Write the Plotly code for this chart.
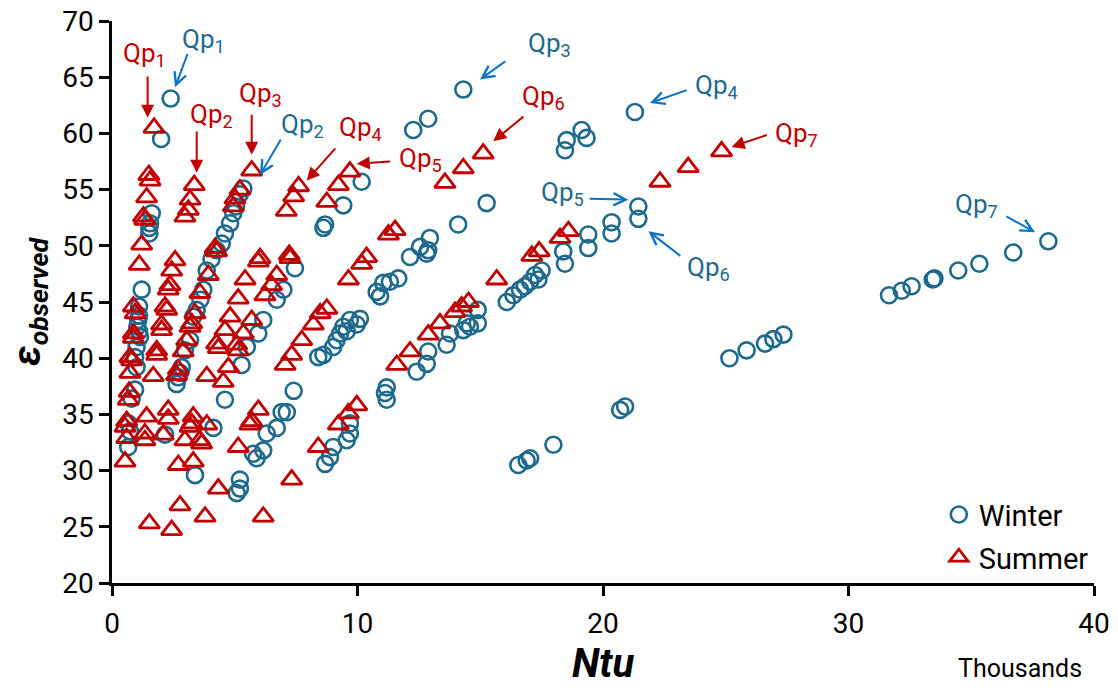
import plotly.graph_objects as go

# ---------------- data ----------------
winter_ntu = [2.39, 2.0, 1.62, 1.55, 1.52, 1.52, 1.21, 1.1, 1.1, 1.07, 1.03, 1.1, 1.14, 1.0, 0.94, 1.0, 0.94, 0.8, 0.66, 0.73, 0.66,
              5.35, 5.21, 5.05, 4.94, 4.81, 4.6, 4.47, 4.26, 4.05, 3.86, 3.72, 3.6, 3.45, 3.31, 3.18, 2.97, 2.84, 2.77, 2.7, 2.63,
              7.45, 6.98, 6.71, 6.16, 5.96, 5.49, 5.28, 4.6, 7.4, 6.91, 7.12, 6.71, 6.3, 6.16, 5.75, 5.89, 5.21, 5.21, 5.08, 3.38, 4.13, 2.16,
              9.42, 8.68, 8.61, 10.17, 12.27, 12.88, 14.31,
              11.66, 11.32, 10.78, 10.92, 11.05, 10.1, 9.69, 9.42, 9.29, 9.15, 9.97, 9.56, 9.01, 8.61, 8.4, 12.95, 12.55, 12.14, 12.88, 12.82, 14.1, 15.26, 11.19, 11.12, 11.19,
              9.69, 9.69, 9.56, 9.01, 8.88, 8.68,
              12.41, 12.82, 12.88, 13.63, 13.77, 14.31, 14.45, 14.58, 14.9, 14.9,
              16.08, 16.35, 16.62, 16.82, 17.03, 17.23, 17.37, 17.5, 18.38, 18.45, 19.4, 19.4, 20.35, 20.35, 21.44, 21.44,
              18.52, 19.13, 19.33, 18.45, 21.3,
              20.7, 20.9, 17.98, 16.55, 16.89, 17.03,
              25.15, 25.85, 26.6, 26.94, 27.35, 31.65, 32.17, 32.57, 33.43, 33.5, 34.47, 35.33, 36.71, 38.14]
winter_eps = [63.1, 59.5, 52.9, 52.0, 51.6, 51.1, 46.1, 44.6, 43.8, 43.4, 42.8, 42.4, 41.9, 41.0, 40.1, 39.2, 37.2, 36.4, 34.2, 33.5, 32.1,
              55.1, 54.6, 53.5, 52.9, 52.0, 51.1, 50.2, 49.6, 48.8, 47.8, 46.1, 45.2, 44.3, 43.7, 41.6, 40.7, 39.2, 38.7, 38.3, 37.7,
              48.0, 46.1, 45.2, 43.4, 42.2, 41.0, 39.4, 36.3, 37.1, 35.2, 35.2, 33.8, 33.3, 31.8, 31.5, 31.1, 29.2, 28.4, 28.0, 29.6, 33.8, 33.2,
              53.6, 51.9, 51.6, 55.7, 60.3, 61.3, 63.9,
              47.1, 46.8, 45.9, 45.5, 46.7, 43.5, 43.4, 42.8, 42.2, 41.6, 43.0, 42.4, 41.0, 40.3, 40.1, 50.7, 49.9, 49.0, 49.6, 49.3, 51.9, 53.8, 37.4, 36.9, 36.3,
              34.2, 33.3, 32.7, 32.1, 31.2, 30.6,
              38.8, 39.5, 40.6, 41.2, 42.2, 42.5, 43.1, 42.8, 44.3, 43.1,
              45.0, 45.6, 46.1, 46.4, 46.8, 47.4, 47.0, 47.8, 49.5, 48.4, 49.8, 51.0, 51.1, 52.1, 53.5, 52.4,
              59.4, 60.3, 59.6, 58.5, 61.9,
              35.4, 35.7, 32.3, 30.5, 30.9, 31.1,
              40.0, 40.7, 41.3, 41.7, 42.1, 45.6, 46.0, 46.4, 47.0, 47.1, 47.8, 48.4, 49.4, 50.4]

summer_ntu = [1.71, 1.5, 1.55, 1.41, 1.34, 1.28, 1.21, 1.11, 0.87, 0.94, 0.87, 0.87, 0.73, 0.8, 0.73, 0.7, 0.66, 0.6, 0.53, 0.6, 0.53, 1.41, 1.34, 1.34, 1.52,
              3.35, 3.18, 3.11, 2.97, 2.57, 2.43, 2.36, 2.29, 2.16, 2.23, 2.02, 2.02, 1.82, 1.82, 1.68, 2.29, 2.29, 2.09, 2.97, 2.7, 2.77, 2.43, 3.31, 3.25, 3.18, 3.58, 3.65, 3.31, 3.86, 4.33, 3.79,
              5.69, 5.21, 5.01, 4.94, 4.2, 4.26, 3.92, 3.58, 3.38, 3.25, 3.18, 3.04, 2.9, 2.7, 2.63, 3.86, 4.53, 6.03, 5.96, 5.42, 5.14, 4.81, 4.6, 4.26, 4.33, 5.08, 5.14, 4.74, 5.69, 5.35, 5.14, 5.96, 5.62, 5.69, 7.32, 6.16,
              7.6, 7.4, 7.1, 7.22, 7.25, 6.71, 6.5, 6.23, 7.32, 7.05, 7.73, 8.2, 8.48, 8.75, 9.69, 9.22, 8.75, 10.37, 10.17, 9.63, 9.97, 9.63, 9.22, 8.4, 11.53, 11.26,
              13.56, 14.31, 15.12, 14.52, 14.24, 13.97, 13.36, 12.88, 12.14, 11.6, 15.67, 17.1, 17.4, 18.25, 18.59,
              22.32, 23.47, 24.83]
summer_eps = [60.5, 56.3, 55.8, 54.3, 52.3, 52.6, 50.1, 48.3, 44.6, 44.0, 42.2, 41.8, 40.1, 39.8, 38.7, 37.0, 36.3, 34.4, 33.9, 32.9, 30.8, 34.8, 33.3, 32.7, 25.3,
              55.4, 54.1, 53.2, 52.6, 48.7, 47.8, 46.5, 46.1, 44.6, 44.3, 43.0, 42.5, 40.7, 40.3, 38.4, 35.4, 34.6, 33.2, 32.7, 30.5, 26.9, 24.7, 34.8, 34.2, 33.9, 32.7, 32.4, 30.8, 34.1, 28.4, 25.9,
              56.7, 55.0, 54.2, 53.5, 49.8, 49.5, 47.4, 45.8, 44.0, 43.1, 42.8, 41.6, 40.6, 39.0, 38.5, 38.4, 37.9, 48.9, 48.6, 47.0, 45.3, 43.7, 42.5, 41.3, 40.9, 41.2, 40.7, 39.2, 43.4, 42.2, 32.1, 35.4, 34.1, 34.4, 29.2, 25.9,
              55.3, 54.4, 53.1, 49.2, 48.9, 47.4, 46.5, 45.6, 40.3, 39.4, 41.6, 43.0, 44.0, 44.4, 56.6, 55.4, 53.9, 49.0, 48.4, 47.0, 35.8, 35.1, 34.1, 32.1, 51.4, 51.0,
              55.6, 56.9, 58.2, 45.0, 44.6, 44.1, 43.1, 42.1, 40.6, 39.4, 47.0, 49.1, 49.5, 50.7, 51.3,
              55.7, 57.0, 58.4]

x_ticks = [0, 10, 20, 30, 40]
y_ticks = [20, 25, 30, 35, 40, 45, 50, 55, 60, 65, 70]

# Qp callouts: label, season, text position, arrow tail, arrow tip (data units)
callout_labels = ["1", "1", "2", "3", "2", "4", "5", "6", "3", "4", "7", "5", "6", "7"]
callout_season = ["S", "W", "S", "S", "W", "S", "S", "S", "W", "W", "S", "W", "W", "W"]
callout_text_xy = [(1.34, 66.8), (3.71, 68.1), (4.07, 61.4), (6.03, 63.3), (7.74, 60.5), (10.14, 60.3), (12.55, 57.5),
                   (17.56, 63.0), (17.84, 67.7), (24.64, 64.0), (27.9, 59.7), (18.37, 54.5), (24.28, 47.8), (35.23, 53.4)]
callout_tail = [(1.45, 65.2), (3.1, 67.2), (3.45, 60.3), (5.69, 61.8), (6.91, 59.6), (9.15, 58.8), (11.39, 57.5),
                (16.82, 61.6), (16.08, 66.5), (23.47, 63.9), (26.73, 59.9), (19.4, 54.2), (23.21, 49.0), (36.37, 52.7)]
callout_tip = [(1.45, 61.4), (2.57, 64.1), (3.45, 56.5), (5.69, 58.1), (6.03, 56.3), (7.93, 55.8), (9.97, 57.3),
               (15.53, 59.3), (14.99, 64.8), (21.91, 62.7), (25.24, 58.8), (21.03, 54.1), (21.85, 51.3), (37.6, 51.2)]

# ---------------- styles ----------------
BLUE = "#1E6A8D"
BLUE_ARROW = "#0B72C4"
RED = "#C00000"
FONT = "Roboto"

fig = go.Figure()
fig.add_trace(go.Scatter(
    x=winter_ntu, y=winter_eps, mode="markers", name="Winter", legendgroup="w",
    marker=dict(symbol="circle-open", size=16, color=BLUE, line=dict(width=2.6, color=BLUE)),
))
fig.add_trace(go.Scatter(
    x=summer_ntu, y=summer_eps, mode="markers", name="Summer", legendgroup="s",
    marker=dict(symbol="triangle-up-open", size=18, color=RED, line=dict(width=2.8, color=RED)),
))

annotations = []
for lab, season, (tx, ty), (ax_, ay_), (px, py) in zip(callout_labels, callout_season, callout_text_xy,
                                                        callout_tail, callout_tip):
    tcol = RED if season == "S" else BLUE
    acol = RED if season == "S" else BLUE_ARROW
    annotations.append(dict(
        x=tx, y=ty, xref="x", yref="y", text=f"Qp<sub>{lab}</sub>", showarrow=False,
        font=dict(family=FONT, size=26, color=tcol), xanchor="center", yanchor="middle", yshift=2,
    ))
    annotations.append(dict(
        x=px, y=py, ax=ax_, ay=ay_, xref="x", yref="y", axref="x", ayref="y", text="",
        showarrow=True, arrowhead=2 if season == "S" else 5, arrowsize=1.3 if season == "S" else 1.2,
        arrowwidth=2, arrowcolor=acol, standoff=0, startstandoff=0,
    ))

annotations.append(dict(
    x=0.925, y=-0.152, xref="paper", yref="paper", text="Thousands", showarrow=False,
    font=dict(family=FONT, size=25, color="black"), xanchor="center", yanchor="middle",
))

axis_common = dict(
    showline=True, linecolor="black", linewidth=2.5, ticks="outside", ticklen=10, tickwidth=2.5,
    tickcolor="black", showgrid=False, zeroline=False, automargin=False,
    tickfont=dict(family=FONT, size=28, color="black"),
)

fig.update_layout(
    width=1118, height=688,
    margin=dict(l=112, r=24, t=21, b=105),
    paper_bgcolor="white", plot_bgcolor="white",
    font=dict(family=FONT, color="black"),
    xaxis=dict(range=[0, 40], tickvals=x_ticks, ticktext=[str(v) for v in x_ticks], ticklabelstandoff=4,
               title=dict(text="<b><i>Ntu</i></b>", font=dict(family=FONT, size=40), standoff=0),
               **axis_common),
    yaxis=dict(range=[20, 70], tickvals=y_ticks, ticktext=[str(v) for v in y_ticks],
               title=dict(text="<b><i>ε<sub>observed</sub></i></b>", font=dict(family=FONT, size=38), standoff=10),
               **axis_common),
    legend=dict(x=0.842, y=0.167, xanchor="left", yanchor="top", bgcolor="rgba(0,0,0,0)",
                font=dict(family=FONT, size=29, color="black"), traceorder="grouped", tracegroupgap=2),
    annotations=annotations,
    showlegend=True,
)

fig.write_html("out.html")
